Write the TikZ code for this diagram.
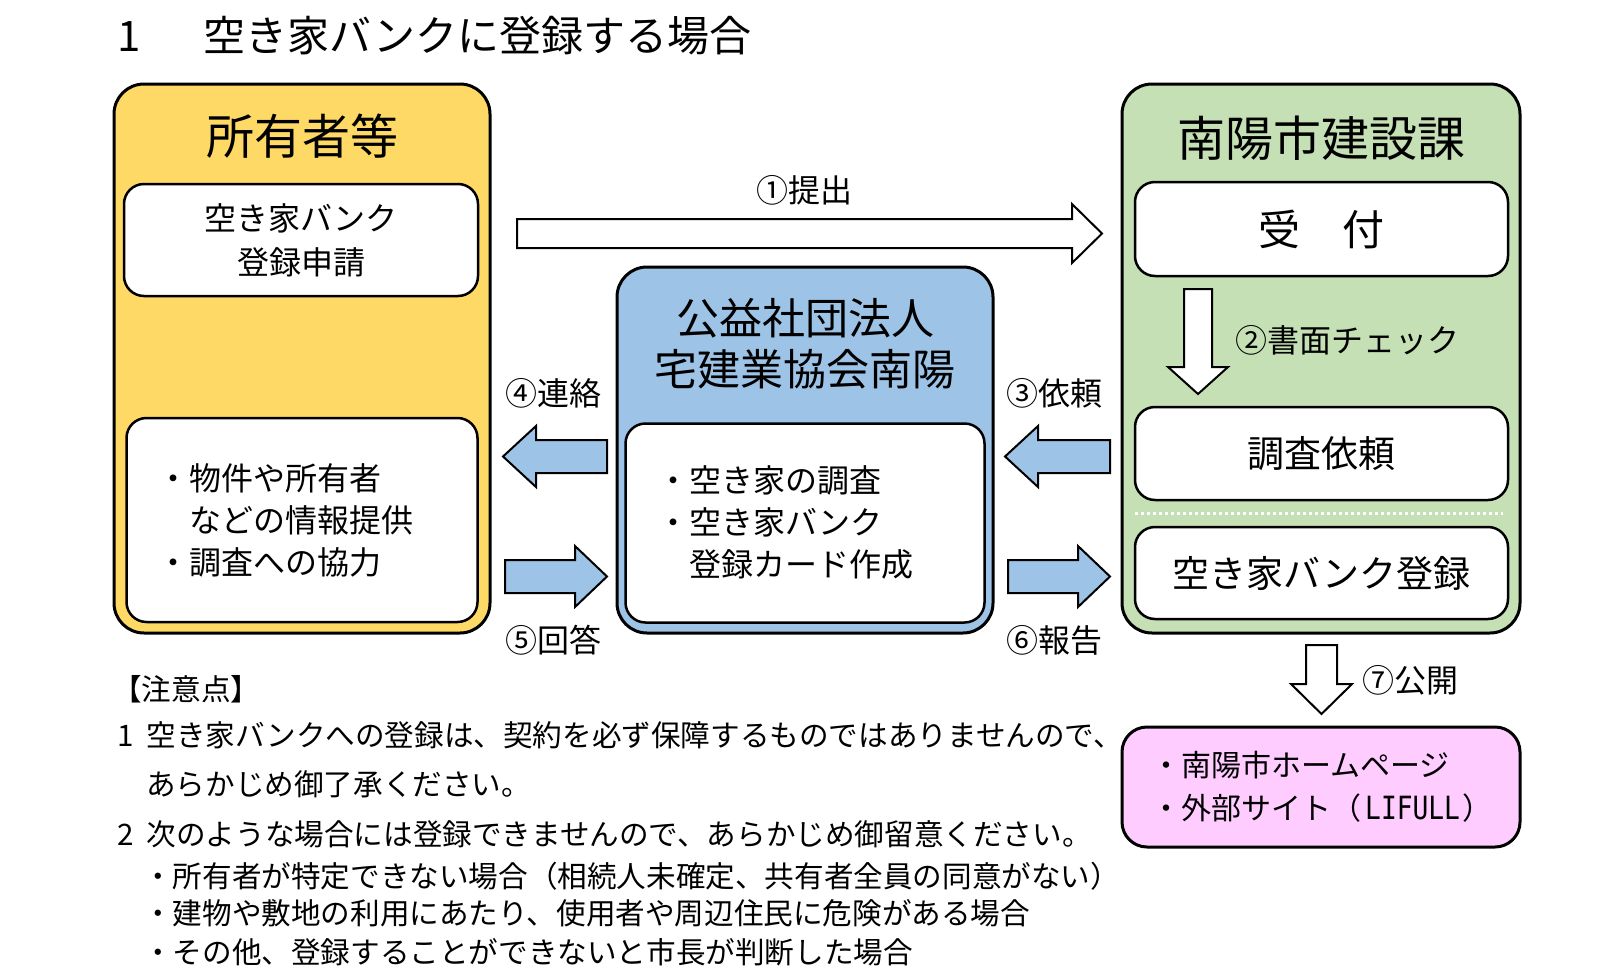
\documentclass[tikz,border=0pt]{standalone}
\usepackage{fontspec}
\setmainfont{Noto Sans CJK JP}
\newfontfamily\latinmono[FakeStretch=0.82]{DejaVu Sans Mono}
\definecolor{cyellow}{HTML}{FFD966}
\definecolor{cblue}{HTML}{9DC3E6}
\definecolor{cgreen}{HTML}{C5E0B4}
\definecolor{cpink}{HTML}{FFCCFF}
% style, xtail, xtip, yc, half shaft, half head, head length (signed)
\newcommand\blkarrowH[7]{%
 \draw[#1] ({#2},{#4-(#5)}) -- ({#3-(#7)},{#4-(#5)}) -- ({#3-(#7)},{#4-(#6)}) -- ({#3},{#4})
   -- ({#3-(#7)},{#4+#6}) -- ({#3-(#7)},{#4+#5}) -- ({#2},{#4+#5}) -- cycle;}
% style, xc, ytail, ytip, half shaft, half head, head length
\newcommand\blkarrowV[7]{%
 \draw[#1] ({#2-(#5)},{#3}) -- ({#2-(#5)},{#4-(#7)}) -- ({#2-(#6)},{#4-(#7)}) -- ({#2},{#4})
   -- ({#2+#6},{#4-(#7)}) -- ({#2+#5},{#4-(#7)}) -- ({#2+#5},{#3}) -- cycle;}
\tikzset{
 outerbox/.style={draw=black, line width=3pt, rounded corners=30pt, inner sep=0pt},
 innerbox/.style={draw=black, fill=white, line width=2.5pt, rounded corners=20pt, inner sep=0pt},
 whitearrow/.style={draw=black, fill=white, line width=2pt, line join=miter},
 bluearrow/.style={draw=black, fill=cblue, line width=2pt, line join=miter},
 lbl/.style={font=\fontsize{32}{40}\selectfont, inner sep=0pt},
 notes/.style={font=\fontsize{29.6}{36}\selectfont, inner sep=0pt, anchor=west},
}
\begin{document}
\begin{tikzpicture}[x=1pt, y=-1pt]
\useasboundingbox (0,0) rectangle (1600,977);
\fill[white] (0,0) rectangle (1600,977);

% title
\node[font=\fontsize{42}{48}\selectfont, anchor=west, inner sep=0pt] (title) at (117,36) {1\hspace{63pt}空き家バンクに登録する場合};

% outer boxes
\node[outerbox, fill=cyellow, minimum width=376pt, minimum height=549pt] (owner) at (302,358.5) {};
\node[outerbox, fill=cblue, minimum width=376pt, minimum height=366pt] (assoc) at (805,450) {};
\node[outerbox, fill=cgreen, minimum width=398pt, minimum height=549pt] (city) at (1321,358.5) {};
\node[outerbox, fill=cpink, rounded corners=25pt, minimum width=398pt, minimum height=120pt] (web) at (1321,787) {};

% titles
\node[font=\fontsize{48}{52}\selectfont, inner sep=0pt] (ownert) at (302,136) {所有者等};
\node[font=\fontsize{43}{51}\selectfont, align=center, inner sep=0pt] (assoct) at (805,343.5) {公益社団法人\\宅建業協会南陽};
\node[font=\fontsize{48}{52}\selectfont, inner sep=0pt] (cityt) at (1321,138) {南陽市建設課};

% inner boxes
\node[innerbox, minimum width=354pt, minimum height=112pt, font=\fontsize{32}{44}\selectfont, align=center] (apply) at (301,240) {空き家バンク\\登録申請};
\node[innerbox, minimum width=351pt, minimum height=204pt] (info) at (302,520) {};
\node[innerbox, minimum width=359pt, minimum height=199pt] (survey) at (805,523) {};
\node[innerbox, minimum width=373pt, minimum height=94pt, font=\fontsize{42}{46}\selectfont] (recv) at (1321.5,229) {受　付};
\node[innerbox, minimum width=373pt, minimum height=93pt, font=\fontsize{37}{42}\selectfont] (req) at (1321.5,453.5) {調査依頼};
\node[innerbox, minimum width=373pt, minimum height=92pt, font=\fontsize{37}{42}\selectfont] (reg) at (1321.5,573) {空き家バンク登録};

\draw[white, line width=3pt, dash pattern=on 3pt off 3pt] (1135,513) -- (1503,513);

% box texts
\node[font=\fontsize{32}{42}\selectfont, align=left, anchor=west, inner sep=0pt] (infot) at (157,520) {・物件や所有者\\\hspace*{32pt}などの情報提供\\・調査への協力};
\node[font=\fontsize{32}{42}\selectfont, align=left, anchor=west, inner sep=0pt] (surveyt) at (657,522) {・空き家の調査\\・空き家バンク\\\hspace*{32pt}登録カード作成};
\node[font=\fontsize{30}{43}\selectfont, align=left, anchor=west, inner sep=0pt] (webt) at (1151,786.5) {・南陽市ホームページ\\・外部サイト（\hspace{4pt}{\fontsize{32}{43}\latinmono LIFULL}\hspace{2pt}）};

% arrows
\blkarrowH{whitearrow}{517}{1102}{233.5}{14.5}{29.5}{30}
\blkarrowH{bluearrow}{607}{503}{456.5}{16.5}{30.5}{-33}
\blkarrowH{bluearrow}{505}{607}{576.5}{16.5}{30.5}{32}
\blkarrowH{bluearrow}{1110}{1005}{456.5}{16.5}{30.5}{-33}
\blkarrowH{bluearrow}{1008}{1110}{576.5}{16.5}{30.5}{32}
\blkarrowV{whitearrow}{1198}{289}{394}{14}{30}{27}
\blkarrowV{whitearrow}{1321.5}{645}{714}{15.5}{30.5}{30}

% arrow labels
\node[lbl] (l1) at (804,190) {①提出};
\node[lbl, anchor=west] (l2) at (1235,340) {②書面チェック};
\node[lbl] (l3) at (1054,393) {③依頼};
\node[lbl] (l4) at (553,393) {④連絡};
\node[lbl] (l5) at (553,640) {⑤回答};
\node[lbl] (l6) at (1054,640) {⑥報告};
\node[lbl] (l7) at (1410,680) {⑦公開};

% notes
\node[notes] (n0) at (112,689) {【注意点】};
\node[notes] (n1) at (117,735) {1\hspace{13pt}空き家バンクへの登録は、契約を必ず保障するものではありませんので、};
\node[notes] (n2) at (146,784) {あらかじめ御了承ください。};
\node[notes] (n3) at (117,834) {2\hspace{13pt}次のような場合には登録できませんので、あらかじめ御留意ください。};
\node[notes] (n4) at (143,876) {・所有者が特定できない場合（相続人未確定、共有者全員の同意がない）};
\node[notes] (n5) at (143,913) {・建物や敷地の利用にあたり、使用者や周辺住民に危険がある場合};
\node[notes] (n6) at (143,952) {・その他、登録することができないと市長が判断した場合};
\end{tikzpicture}
\end{document}
